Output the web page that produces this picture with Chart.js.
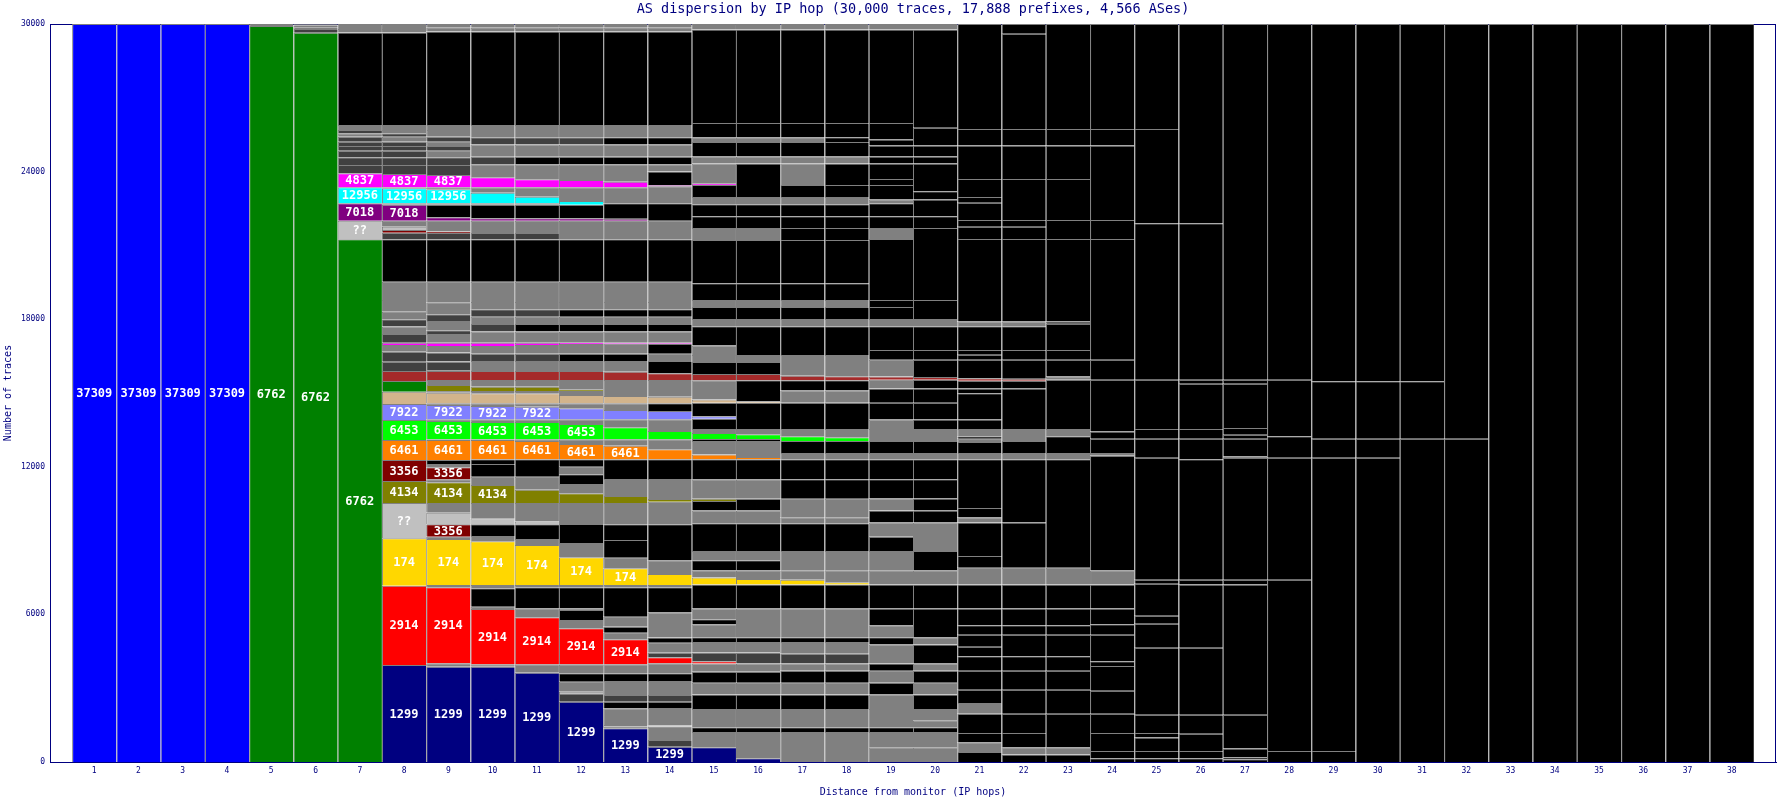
<!DOCTYPE html>
<html>
<head>
<meta charset="utf-8">
<title>AS dispersion by IP hop</title>
<script src="https://cdn.jsdelivr.net/npm/chart.js@4.4.0/dist/chart.umd.min.js"></script>
<style>
  html, body { margin: 0; background: #fff; }
  #wrap { width: 1777px; height: 800px; }
</style>
</head>
<body>
<div id="wrap"><canvas id="hopChart"></canvas></div>
<script>
// hop numbers on the x axis
const hops = Array.from({ length: 38 }, (_, i) => i + 1);
const yTicks = [0, 6000, 12000, 18000, 24000, 30000];

// colour codes used by the segments
const palette = {
  B: "#0000ff", N: "#000080", G: "#008000", K: "#000000", g: "#808080",
  d: "#404040", R: "#ff0000", Y: "#ffd700", L: "#c0c0c0", O: "#808000",
  M: "#800000", o: "#ff8000", l: "#00ff00", v: "#8080ff", t: "#d2b48c",
  b: "#a52a2a", m: "#ff00ff", c: "#00ffff", p: "#800080"
};

// each column: [top of segment (traces, cumulative), colour code, AS label]
const hop1 = [[30000, "B", "37309"]];
const hop2 = [[30000, "B", "37309"]];
const hop3 = [[30000, "B", "37309"]];
const hop4 = [[30000, "B", "37309"]];
const hop5 = [[29920, "G", "6762"], [30000, "g"]];
const hop6 = [[29646, "G", "6762"], [29800, "d"], [29870, "g"], [29930, "d"], [30000, "g"]];
const hop7 = [[21248, "G", "6762"], [22004, "L", "??"], [22711, "p", "7018"], [23362, "c", "12956"],
  [23931, "m", "4837"], [24268, "d"], [24581, "d"], [24850, "d"], [25040, "d"], [25215, "d"],
  [25418, "d"], [25555, "g"], [25690, "d"], [25894, "g"], [29650, "K"], [29800, "g"], [30000, "g"]];
const hop8 = [[3943, "N", "1299"], [7167, "R", "2914"], [9093, "Y", "174"], [10528, "L", "??"],
  [11423, "O", "4134"], [12276, "M", "3356"], [13089, "o", "6461"], [13902, "l", "6453"],
  [14553, "v", "7922"], [15053, "t"], [15488, "G"], [15894, "b"], [16272, "d"], [16679, "d"],
  [16950, "g"], [17040, "m"], [17400, "d"], [17700, "g"], [18000, "d"], [18300, "g"], [18780, "g"],
  [19525, "g"], [21248, "K"], [21517, "d"], [21630, "M"], [21760, "L"], [22004, "g"],
  [22650, "p", "7018"], [22711, "g"], [23321, "c", "12956"], [23362, "g"], [23902, "m", "4837"],
  [24268, "d"], [24581, "d"], [24850, "d"], [25040, "d"], [25215, "d"], [25418, "g"], [25555, "d"],
  [25690, "g"], [25894, "g"], [29650, "K"], [29800, "g"], [30000, "g"]];
const hop9 = [[3875, "N", "1299"], [4012, "g"], [7100, "R", "2914"], [7195, "g"], [9065, "Y", "174"],
  [9160, "g"], [9660, "M", "3356"], [9675, "g"], [10135, "L"], [10530, "g"], [11370, "O", "4134"],
  [11490, "g"], [11980, "M", "3356"], [12114, "g"], [12276, "K"], [13089, "o", "6461"], [13117, "g"],
  [13861, "l", "6453"], [13931, "g"], [14512, "v", "7922"], [14580, "g"], [15010, "t"], [15082, "g"],
  [15325, "O"], [15529, "g"], [15894, "b"], [15935, "g"], [16272, "d"], [16301, "g"], [16650, "d"],
  [16910, "g"], [17045, "m"], [17400, "g"], [17550, "d"], [17930, "g"], [18200, "d"], [18670, "g"],
  [19525, "g"], [21248, "K"], [21500, "d"], [21560, "M"], [22004, "g"], [22140, "p"], [22650, "K"],
  [22711, "g"], [23280, "c", "12956"], [23362, "g"], [23860, "m", "4837"], [24268, "d"], [24581, "d"],
  [24850, "g"], [25040, "d"], [25215, "g"], [25418, "d"], [25690, "g"], [25894, "g"], [29700, "K"],
  [29850, "g"], [30000, "g"]];
const hop10 = [[3875, "N", "1299"], [3972, "g"], [6220, "R", "2914"], [6313, "g"], [7060, "K"],
  [7195, "g"], [8970, "Y", "174"], [9186, "g"], [9660, "K"], [9675, "g"], [9905, "L"], [10530, "g"],
  [11260, "O", "4134"], [11600, "g"], [12114, "K"], [12305, "K"], [13089, "o", "6461"], [13117, "g"],
  [13820, "l", "6453"], [13931, "g"], [14472, "v", "7922"], [14580, "g"], [14985, "t"], [15082, "g"],
  [15256, "O"], [15529, "g"], [15894, "b"], [16300, "g"], [16600, "d"], [16910, "g"], [17045, "m"],
  [17500, "g"], [17800, "d"], [18100, "g"], [18400, "d"], [18700, "g"], [19525, "g"], [21248, "K"],
  [21500, "d"], [22004, "g"], [22100, "p"], [22650, "K"], [22711, "g"], [23140, "c"], [23362, "g"],
  [23768, "m"], [24300, "g"], [24600, "d"], [25100, "g"], [25400, "d"], [25894, "g"], [29700, "K"],
  [29850, "g"], [30000, "g"]];
const hop11 = [[3630, "N", "1299"], [3972, "g"], [5882, "R", "2914"], [6248, "g"], [7100, "K"],
  [7195, "g"], [8821, "Y", "174"], [9060, "g"], [9660, "K"], [9780, "L"], [10530, "g"], [11069, "O"],
  [11600, "g"], [12305, "K"], [13049, "o", "6461"], [13117, "g"], [13820, "l", "6453"], [13931, "g"],
  [14444, "v", "7922"], [14580, "g"], [14985, "t"], [15082, "g"], [15256, "O"], [15529, "g"],
  [15894, "b"], [16300, "g"], [16600, "d"], [16950, "g"], [17045, "m"], [17500, "g"], [17800, "K"],
  [18100, "g"], [18400, "d"], [18700, "g"], [19525, "g"], [21248, "K"], [21500, "d"], [22004, "g"],
  [22100, "p"], [22650, "K"], [22711, "g"], [22980, "c"], [23362, "g"], [23687, "m"], [24300, "g"],
  [24600, "K"], [25100, "g"], [25400, "d"], [25894, "g"], [29700, "K"], [29850, "g"], [30000, "g"]];
const hop12 = [[2450, "N", "1299"], [2765, "d"], [2858, "L"], [3264, "g"], [3606, "K"], [3972, "g"],
  [5434, "R", "2914"], [5770, "g"], [6180, "K"], [6248, "g"], [7100, "K"], [7195, "g"],
  [8321, "Y", "174"], [8900, "g"], [9675, "K"], [10530, "g"], [10923, "O"], [11300, "g"], [11700, "K"],
  [12000, "g"], [12305, "K"], [12927, "o", "6461"], [13117, "g"], [13740, "l", "6453"], [13931, "g"],
  [14378, "v"], [14580, "g"], [14918, "t"], [15082, "g"], [15150, "O"], [15529, "g"], [15894, "b"],
  [16300, "g"], [16600, "K"], [16990, "g"], [17045, "m"], [17500, "g"], [17800, "K"], [18100, "g"],
  [18400, "K"], [18700, "g"], [19525, "g"], [21248, "K"], [22004, "g"], [22100, "p"], [22650, "K"],
  [22800, "c"], [23362, "g"], [23660, "m"], [24300, "g"], [24600, "K"], [25100, "g"], [25400, "d"],
  [25894, "g"], [29700, "K"], [29850, "g"], [30000, "g"]];
const hop13 = [[1370, "N", "1299"], [1420, "g"], [1500, "L"], [2180, "g"], [2450, "K"], [2723, "d"],
  [3290, "g"], [3606, "K"], [3972, "g"], [4988, "R", "2914"], [5250, "g"], [5500, "K"], [5900, "g"],
  [7100, "K"], [7195, "g"], [7874, "Y", "174"], [8300, "g"], [9020, "K"], [9660, "K"], [10530, "g"],
  [10813, "O"], [11500, "g"], [12305, "K"], [12858, "o", "6461"], [13117, "g"], [13605, "l"],
  [13931, "g"], [14309, "v"], [14580, "g"], [14878, "t"], [15529, "g"], [15860, "b"], [16300, "g"],
  [16600, "K"], [17000, "g"], [17045, "m"], [17500, "g"], [17800, "K"], [18100, "g"], [18400, "K"],
  [18700, "g"], [19525, "g"], [21248, "K"], [22004, "g"], [22080, "p"], [22711, "K"], [23362, "g"],
  [23590, "m"], [24300, "g"], [24600, "K"], [25100, "g"], [25400, "K"], [25894, "g"], [29700, "K"],
  [29850, "g"], [30000, "g"]];
const hop14 = [[620, "N", "1299"], [890, "d"], [1435, "g"], [1480, "L"], [2195, "g"], [2450, "K"],
  [2723, "d"], [3290, "g"], [3606, "K"], [4012, "g"], [4256, "R"], [4443, "d"], [4850, "g"],
  [5060, "K"], [6080, "g"], [7100, "K"], [7195, "g"], [7640, "Y"], [8200, "g"], [9660, "K"],
  [10580, "g"], [10690, "O"], [11500, "g"], [12305, "K"], [12710, "o"], [13117, "g"], [13455, "l"],
  [13931, "g"], [14268, "v"], [14580, "K"], [14850, "t"], [15529, "g"], [15800, "b"], [16300, "K"],
  [16600, "g"], [17000, "K"], [17045, "m"], [17500, "g"], [17800, "K"], [18100, "g"], [18400, "K"],
  [18700, "g"], [19525, "g"], [21248, "K"], [22004, "g"], [22711, "K"], [23400, "g"], [23450, "m"],
  [24000, "K"], [24300, "g"], [24600, "K"], [25100, "g"], [25400, "K"], [25894, "g"], [29700, "K"],
  [29850, "g"], [30000, "g"]];
const hop15 = [[598, "N"], [1220, "g"], [1415, "K"], [2154, "g"], [2740, "K"], [3224, "g"], [3671, "K"],
  [4004, "g"], [4100, "R"], [4451, "d"], [4880, "g"], [5073, "K"], [5600, "g"], [5800, "K"],
  [6240, "g"], [7212, "K"], [7504, "Y"], [7797, "g"], [8200, "K"], [8573, "g"], [9703, "K"],
  [10227, "g"], [10614, "K"], [10700, "O"], [11491, "g"], [12309, "K"], [12504, "o"], [13045, "g"],
  [13126, "K"], [13378, "l"], [13533, "g"], [13950, "K"], [14050, "v"], [14601, "K"], [14740, "t"],
  [15516, "g"], [15768, "b"], [16256, "K"], [16545, "g"], [16935, "g"], [17715, "K"], [18008, "g"],
  [18492, "K"], [18780, "g"], [19464, "K"], [21215, "K"], [21703, "g"], [22187, "K"], [22675, "K"],
  [22967, "g"], [23451, "K"], [23530, "m"], [24329, "g"], [24618, "g"], [25203, "K"], [25398, "g"],
  [25979, "K"], [29772, "K"], [30000, "g"]];
const hop16 = [[150, "N"], [1220, "g"], [1415, "K"], [2154, "g"], [2740, "K"], [3224, "g"], [3671, "K"],
  [4004, "g"], [4451, "d"], [4880, "g"], [5073, "K"], [6240, "g"], [7212, "K"], [7440, "Y"],
  [7797, "g"], [8200, "K"], [8573, "g"], [9703, "K"], [10227, "g"], [10700, "K"], [11491, "g"],
  [12309, "K"], [12400, "o"], [13045, "g"], [13126, "K"], [13320, "l"], [13533, "g"], [14601, "K"],
  [14660, "t"], [15516, "K"], [15768, "b"], [16256, "K"], [16545, "g"], [17715, "K"], [18008, "g"],
  [18492, "K"], [18780, "g"], [19464, "K"], [21215, "K"], [21703, "g"], [22187, "K"], [22675, "K"],
  [22967, "g"], [24329, "K"], [24618, "g"], [25203, "K"], [25398, "g"], [25979, "K"], [29772, "K"],
  [30000, "g"]];
const hop17 = [[1220, "g"], [1415, "K"], [2154, "g"], [2740, "K"], [3224, "g"], [3711, "K"], [4004, "g"],
  [4400, "d"], [4880, "g"], [5073, "K"], [6240, "g"], [7212, "K"], [7406, "Y"], [7797, "g"],
  [8573, "g"], [9703, "K"], [9950, "g"], [10700, "g"], [11491, "K"], [12309, "K"], [12561, "g"],
  [13045, "K"], [13240, "l"], [13533, "g"], [14601, "K"], [15100, "g"], [15516, "K"], [15700, "b"],
  [16545, "g"], [17715, "K"], [18008, "g"], [18492, "K"], [18780, "g"], [19464, "K"], [21215, "K"],
  [21703, "K"], [22187, "K"], [22675, "K"], [22967, "g"], [23451, "K"], [24329, "g"], [24618, "g"],
  [25203, "K"], [25398, "g"], [25979, "K"], [29772, "K"], [30000, "g"]];
const hop18 = [[1220, "g"], [1415, "K"], [2154, "g"], [2740, "K"], [3224, "g"], [3711, "K"], [4004, "g"],
  [4400, "d"], [4880, "g"], [5073, "K"], [6240, "g"], [7212, "K"], [7310, "Y"], [7797, "g"],
  [8573, "g"], [9703, "K"], [9950, "g"], [10700, "g"], [11491, "K"], [12309, "K"], [12561, "g"],
  [13045, "K"], [13200, "l"], [13533, "g"], [14601, "K"], [15100, "g"], [15516, "K"], [15680, "b"],
  [16545, "g"], [17715, "K"], [18008, "g"], [18492, "K"], [18780, "g"], [19464, "K"], [21215, "K"],
  [21703, "K"], [22187, "K"], [22675, "K"], [22967, "g"], [23451, "K"], [24329, "K"], [24618, "g"],
  [25203, "K"], [25398, "K"], [25979, "K"], [29772, "K"], [30000, "g"]];
const hop19 = [[598, "g"], [1220, "g"], [1415, "K"], [2154, "g"], [2740, "g"], [3224, "K"], [3711, "g"],
  [4004, "K"], [4780, "g"], [5073, "K"], [5557, "g"], [6240, "K"], [7212, "K"], [7797, "g"],
  [8573, "g"], [9158, "K"], [9740, "g"], [10227, "K"], [10712, "g"], [11491, "K"], [12309, "K"],
  [12561, "g"], [13045, "K"], [13533, "g"], [13923, "g"], [14601, "K"], [15187, "K"], [15536, "g"],
  [15671, "b"], [16353, "g"], [16744, "K"], [17715, "K"], [18008, "g"], [18492, "K"], [18780, "K"],
  [21256, "K"], [21703, "g"], [22187, "K"], [22714, "K"], [22870, "g"], [23451, "K"], [23703, "K"],
  [24329, "K"], [24618, "K"], [25065, "K"], [25301, "K"], [25979, "K"], [29772, "K"], [30000, "g"]];
const hop20 = [[598, "g"], [1220, "g"], [1415, "K"], [1700, "g"], [2154, "g"], [2740, "K"], [3224, "g"],
  [3711, "K"], [4004, "g"], [4780, "K"], [5073, "g"], [6240, "K"], [7212, "K"], [7797, "g"],
  [8573, "K"], [9740, "g"], [10227, "K"], [10712, "K"], [11491, "K"], [12309, "K"], [12561, "g"],
  [13045, "K"], [13533, "g"], [13923, "K"], [14601, "K"], [15187, "K"], [15536, "K"], [15650, "b"],
  [16353, "K"], [16744, "K"], [17715, "K"], [18008, "g"], [18780, "K"], [21703, "K"], [22187, "K"],
  [22870, "K"], [23200, "K"], [24329, "K"], [24618, "K"], [25065, "K"], [25784, "K"], [29772, "K"],
  [30000, "g"]];
const hop21 = [[403, "K"], [800, "g"], [1183, "K"], [1960, "K"], [2400, "g"], [2935, "K"], [3711, "K"],
  [4294, "K"], [4683, "K"], [5170, "K"], [5557, "K"], [6240, "K"], [7212, "K"], [7894, "g"],
  [8378, "K"], [9740, "K"], [9935, "g"], [10324, "K"], [12309, "K"], [12561, "g"], [13006, "K"],
  [13142, "g"], [13240, "K"], [13533, "g"], [13923, "K"], [14992, "K"], [15187, "K"], [15500, "K"],
  [15600, "b"], [16353, "K"], [16550, "K"], [16744, "K"], [17715, "K"], [17910, "g"], [21256, "K"],
  [21760, "K"], [22032, "K"], [22733, "K"], [22967, "K"], [23703, "K"], [25065, "K"], [25728, "K"],
  [30000, "K"]];
const hop22 = [[300, "K"], [600, "g"], [1183, "K"], [1960, "K"], [2935, "K"], [3711, "K"], [4294, "K"],
  [5170, "K"], [5557, "K"], [6240, "K"], [7212, "K"], [7894, "g"], [9740, "K"], [12309, "K"],
  [12561, "g"], [13045, "K"], [13533, "g"], [15187, "K"], [15500, "K"], [15580, "b"], [16353, "K"],
  [16744, "K"], [17715, "K"], [17910, "g"], [21256, "K"], [21760, "K"], [22032, "K"], [23703, "K"],
  [25065, "K"], [25728, "K"], [29600, "K"], [30000, "K"]];
const hop23 = [[300, "K"], [600, "g"], [1960, "K"], [2935, "K"], [3711, "K"], [4294, "K"], [5170, "K"],
  [5557, "K"], [6240, "K"], [7212, "K"], [7894, "g"], [12309, "K"], [12561, "g"], [13240, "K"],
  [13533, "g"], [15536, "K"], [15671, "g"], [16353, "K"], [16744, "K"], [17810, "K"], [17910, "K"],
  [21256, "K"], [22032, "K"], [23703, "K"], [25065, "K"], [25728, "K"], [30000, "K"]];
const hop24 = [[150, "K"], [443, "K"], [1183, "K"], [1960, "K"], [2900, "K"], [3900, "K"], [4100, "K"],
  [5170, "K"], [5600, "K"], [6240, "K"], [7212, "K"], [7797, "g"], [12450, "K"], [12561, "g"],
  [13142, "K"], [13440, "K"], [15536, "K"], [16353, "K"], [21256, "K"], [22032, "K"], [25065, "K"],
  [25728, "K"], [30000, "K"]];
const hop25 = [[150, "K"], [443, "K"], [1000, "K"], [1183, "K"], [1922, "K"], [4643, "K"], [5616, "K"],
  [5947, "K"], [7250, "K"], [7406, "K"], [12366, "K"], [13142, "K"], [13533, "K"], [15536, "K"],
  [21898, "K"], [25728, "K"], [30000, "K"]];
const hop26 = [[150, "K"], [443, "K"], [1144, "K"], [1922, "K"], [4643, "K"], [7212, "K"], [7406, "K"],
  [12309, "K"], [13142, "K"], [13533, "K"], [15381, "K"], [15536, "K"], [21898, "K"], [30000, "K"]];
const hop27 = [[113, "K"], [184, "K"], [553, "K"], [1922, "K"], [7212, "K"], [7406, "K"], [12366, "K"],
  [12420, "K"], [13142, "K"], [13300, "K"], [13573, "K"], [15381, "K"], [15536, "K"], [30000, "K"]];
const hop28 = [[443, "K"], [7406, "K"], [12366, "K"], [13240, "K"], [15536, "K"], [30000, "K"]];
const hop29 = [[443, "K"], [12366, "K"], [13142, "K"], [15479, "K"], [30000, "K"]];
const hop30 = [[12366, "K"], [13142, "K"], [15479, "K"], [30000, "K"]];
const hop31 = [[13142, "K"], [15479, "K"], [30000, "K"]];
const hop32 = [[13142, "K"], [30000, "K"]];
const hop33 = [[30000, "K"]];
const hop34 = [[30000, "K"]];
const hop35 = [[30000, "K"]];
const hop36 = [[30000, "K"]];
const hop37 = [[30000, "K"]];
const hop38 = [[30000, "K"]];

const columns = [hop1, hop2, hop3, hop4, hop5, hop6, hop7, hop8, hop9, hop10, hop11, hop12, hop13,
  hop14, hop15, hop16, hop17, hop18, hop19, hop20, hop21, hop22, hop23, hop24, hop25, hop26, hop27,
  hop28, hop29, hop30, hop31, hop32, hop33, hop34, hop35, hop36, hop37, hop38];

// floating bars: one per segment, stacked by hand from the cumulative tops
const bars = [];
columns.forEach((segs, i) => {
  let base = 0;
  segs.forEach(([top, code, label]) => {
    bars.push({ x: hops[i], y: [base, top], c: code, label: label || "" });
    base = top;
  });
});

const navy = "#000080";

const frame = {
  id: "frame",
  beforeDatasetsDraw(chart) {
    const a = chart.chartArea;
    const ctx = chart.ctx;
    ctx.save();
    ctx.strokeStyle = navy;
    ctx.lineWidth = 1;
    ctx.strokeRect(a.left + 0.5, a.top + 0.5, a.right - a.left - 1, a.bottom - a.top);
    ctx.restore();
  }
};

const segmentLabels = {
  id: "segmentLabels",
  afterDatasetsDraw(chart) {
    const ctx = chart.ctx;
    const meta = chart.getDatasetMeta(0);
    ctx.save();
    ctx.font = 'bold 12px "DejaVu Sans Mono"';
    ctx.fillStyle = "#ffffff";
    ctx.textAlign = "center";
    ctx.textBaseline = "middle";
    meta.data.forEach((bar, i) => {
      if (bars[i].label) ctx.fillText(bars[i].label, bar.x, (bar.y + bar.base) / 2 + 1);
    });
    ctx.restore();
  }
};

new Chart(document.getElementById("hopChart"), {
  type: "bar",
  data: {
    datasets: [{
      data: bars,
      backgroundColor: (ctx) => (ctx.raw ? palette[ctx.raw.c] : "#000"),
      borderColor: "#808080",
      borderWidth: { top: 1, left: 1, right: 0, bottom: 0 },
      borderSkipped: false,
      inflateAmount: 0,
      barPercentage: 1,
      categoryPercentage: 1
    }]
  },
  options: {
    responsive: true,
    maintainAspectRatio: false,
    animation: false,
    layout: { padding: { top: 0, right: 1, left: 0, bottom: 0 } },
    plugins: {
      legend: { display: false },
      tooltip: { enabled: false },
      title: {
        display: true,
        fullSize: false,
        text: "AS dispersion by IP hop (30,000 traces, 17,888 prefixes, 4,566 ASes)",
        color: navy,
        font: { family: "DejaVu Sans Mono", size: 13.5, weight: "normal", lineHeight: 1 },
        padding: { top: 2.5, bottom: 8 }
      }
    },
    scales: {
      x: {
        type: "linear",
        min: 0,
        max: 39,
        offset: false,
        grid: { display: false, drawTicks: false, offset: false },
        border: { color: navy },
        afterBuildTicks: (scale) => { scale.ticks = hops.map((v) => ({ value: v })); },
        afterFit: (scale) => { scale.height = 38; },
        ticks: {
          autoSkip: false,
          maxRotation: 0,
          padding: 4,
          color: navy,
          font: { family: "DejaVu Sans Mono", size: 8 }
        },
        title: {
          display: true,
          text: "Distance from monitor (IP hops)",
          color: navy,
          font: { family: "DejaVu Sans Mono", size: 10 },
          padding: { top: 0, bottom: 2 }
        }
      },
      y: {
        min: 0,
        max: 30000,
        grid: { display: false, drawTicks: false },
        border: { color: navy },
        afterBuildTicks: (scale) => { scale.ticks = yTicks.map((v) => ({ value: v })); },
        afterFit: (scale) => { scale.width = 50; },
        ticks: {
          padding: 5,
          color: navy,
          font: { family: "DejaVu Sans Mono", size: 8 },
          callback: (v) => String(v)
        },
        title: {
          display: true,
          text: "Number of traces",
          color: navy,
          font: { family: "DejaVu Sans Mono", size: 10 },
          padding: { top: 2, bottom: 0 }
        }
      }
    }
  },
  plugins: [frame, segmentLabels]
});
</script>
</body>
</html>
